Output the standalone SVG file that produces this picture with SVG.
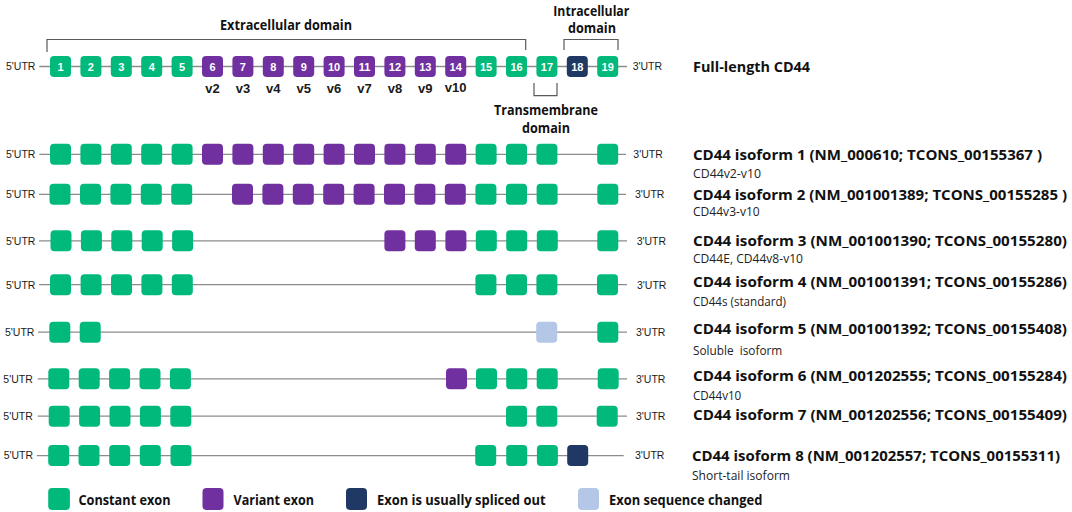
<svg xmlns="http://www.w3.org/2000/svg" width="1072" height="512" viewBox="0 0 1072 512">
<style>
.bg{fill:#ffffff}
.ln{stroke:#8c8c8c;stroke-width:1.3;fill:none}
.br{stroke:#5a5a5a;stroke-width:1.2;fill:none}
.g{fill:#00b97b}
.p{fill:#7030a0}
.n{fill:#1f3864}
.lb{fill:#b4c7e7}
.num{font-family:"Liberation Sans",Arial,sans-serif;font-weight:700;font-size:11px;fill:#ffffff;text-anchor:middle}
.v{font-family:"Liberation Sans",Arial,sans-serif;font-weight:700;font-size:13px;fill:#1a1a1a;text-anchor:middle}
.utr{font-family:"Liberation Sans",Arial,sans-serif;font-size:10.5px;fill:#1a1a1a}
.ttl{font-family:"Open Sans","Liberation Sans",sans-serif;font-weight:700;font-size:15px;fill:#111111}
.sub{font-family:"Open Sans","Liberation Sans",sans-serif;font-size:12px;fill:#222222}
.dom{font-family:"Open Sans","Liberation Sans",sans-serif;font-weight:700;font-size:14.5px;fill:#111111;text-anchor:middle}
.leg{font-family:"Open Sans","Liberation Sans",sans-serif;font-weight:700;font-size:14.5px;fill:#111111}
</style>
<rect class="bg" x="0" y="0" width="1072" height="512"/>

<g id="connectors">
<line class="ln" x1="39.3" y1="66.5" x2="627" y2="66.5"/>
<line class="ln" x1="39.3" y1="154.3" x2="626" y2="154.3"/>
<line class="ln" x1="39" y1="194.3" x2="626" y2="194.3"/>
<line class="ln" x1="39" y1="240.8" x2="627" y2="240.8"/>
<line class="ln" x1="39" y1="284.7" x2="627" y2="284.7"/>
<line class="ln" x1="38" y1="332.2" x2="627" y2="332.2"/>
<line class="ln" x1="37.7" y1="378.8" x2="627" y2="378.8"/>
<line class="ln" x1="37.7" y1="416.2" x2="627" y2="416.2"/>
<line class="ln" x1="36.8" y1="455.6" x2="623.7" y2="455.6"/>
</g>

<g id="domains">
<path class="br" d="M47,52 V39.5 H525.7 V50"/>
<text class="dom" x="286" y="30" textLength="132" lengthAdjust="spacingAndGlyphs">Extracellular domain</text>
<path class="br" d="M564,50 V39.5 H618 V50"/>
<text class="dom" x="591.3" y="15.5" textLength="76" lengthAdjust="spacingAndGlyphs">Intracellular</text>
<text class="dom" x="592" y="33" textLength="48" lengthAdjust="spacingAndGlyphs">domain</text>
<path class="br" d="M534,83 V95.7 H557 V83"/>
<text class="dom" x="546" y="115" textLength="104" lengthAdjust="spacingAndGlyphs">Transmembrane</text>
<text class="dom" x="546" y="133" textLength="48" lengthAdjust="spacingAndGlyphs">domain</text>
</g>

<g id="full-length">
<text class="utr" x="6" y="70.3">5'UTR</text>
<rect class="g" x="50" y="56" width="21" height="21" rx="4"/>
<rect class="g" x="80.4" y="56" width="21" height="21" rx="4"/>
<rect class="g" x="110.8" y="56" width="21" height="21" rx="4"/>
<rect class="g" x="141.2" y="56" width="21" height="21" rx="4"/>
<rect class="g" x="171.6" y="56" width="21" height="21" rx="4"/>
<rect class="p" x="202" y="56" width="21" height="21" rx="4"/>
<rect class="p" x="232.4" y="56" width="21" height="21" rx="4"/>
<rect class="p" x="262.8" y="56" width="21" height="21" rx="4"/>
<rect class="p" x="293.2" y="56" width="21" height="21" rx="4"/>
<rect class="p" x="323.6" y="56" width="21" height="21" rx="4"/>
<rect class="p" x="354" y="56" width="21" height="21" rx="4"/>
<rect class="p" x="384.4" y="56" width="21" height="21" rx="4"/>
<rect class="p" x="414.8" y="56" width="21" height="21" rx="4"/>
<rect class="p" x="445.2" y="56" width="21" height="21" rx="4"/>
<rect class="g" x="475.6" y="56" width="21" height="21" rx="4"/>
<rect class="g" x="506" y="56" width="21" height="21" rx="4"/>
<rect class="g" x="536.4" y="56" width="21" height="21" rx="4"/>
<rect class="n" x="566.8" y="56" width="21" height="21" rx="4"/>
<rect class="g" x="597.2" y="56" width="21" height="21" rx="4"/>
<text class="num" x="60.5" y="70.8">1</text>
<text class="num" x="90.9" y="70.8">2</text>
<text class="num" x="121.3" y="70.8">3</text>
<text class="num" x="151.7" y="70.8">4</text>
<text class="num" x="182.1" y="70.8">5</text>
<text class="num" x="212.5" y="70.8">6</text>
<text class="num" x="242.9" y="70.8">7</text>
<text class="num" x="273.3" y="70.8">8</text>
<text class="num" x="303.7" y="70.8">9</text>
<text class="num" x="334.1" y="70.8">10</text>
<text class="num" x="364.5" y="70.8">11</text>
<text class="num" x="394.9" y="70.8">12</text>
<text class="num" x="425.3" y="70.8">13</text>
<text class="num" x="455.7" y="70.8">14</text>
<text class="num" x="486.1" y="70.8">15</text>
<text class="num" x="516.5" y="70.8">16</text>
<text class="num" x="546.9" y="70.8">17</text>
<text class="num" x="577.3" y="70.8">18</text>
<text class="num" x="607.7" y="70.8">19</text>
<text class="v" x="212.5" y="93">v2</text>
<text class="v" x="242.9" y="93">v3</text>
<text class="v" x="273.3" y="93">v4</text>
<text class="v" x="303.7" y="93">v5</text>
<text class="v" x="334.1" y="93">v6</text>
<text class="v" x="364.5" y="93">v7</text>
<text class="v" x="394.9" y="93">v8</text>
<text class="v" x="425.3" y="93">v9</text>
<text class="v" x="455.7" y="91.5">v10</text>
<text class="utr" x="632.7" y="70.3">3'UTR</text>
<text class="ttl" x="693" y="72" textLength="117" lengthAdjust="spacingAndGlyphs">Full-length CD44</text>
</g>

<g id="isoform1">
<text class="utr" x="6" y="158.1">5'UTR</text>
<rect class="g" x="50" y="143.8" width="21" height="21" rx="4"/>
<rect class="g" x="80.4" y="143.8" width="21" height="21" rx="4"/>
<rect class="g" x="110.8" y="143.8" width="21" height="21" rx="4"/>
<rect class="g" x="141.2" y="143.8" width="21" height="21" rx="4"/>
<rect class="g" x="171.6" y="143.8" width="21" height="21" rx="4"/>
<rect class="p" x="202" y="143.8" width="21" height="21" rx="4"/>
<rect class="p" x="232.4" y="143.8" width="21" height="21" rx="4"/>
<rect class="p" x="262.8" y="143.8" width="21" height="21" rx="4"/>
<rect class="p" x="293.2" y="143.8" width="21" height="21" rx="4"/>
<rect class="p" x="323.6" y="143.8" width="21" height="21" rx="4"/>
<rect class="p" x="354" y="143.8" width="21" height="21" rx="4"/>
<rect class="p" x="384.4" y="143.8" width="21" height="21" rx="4"/>
<rect class="p" x="414.8" y="143.8" width="21" height="21" rx="4"/>
<rect class="p" x="445.2" y="143.8" width="21" height="21" rx="4"/>
<rect class="g" x="475.6" y="143.8" width="21" height="21" rx="4"/>
<rect class="g" x="506" y="143.8" width="21" height="21" rx="4"/>
<rect class="g" x="536.4" y="143.8" width="21" height="21" rx="4"/>
<rect class="g" x="597.2" y="143.8" width="21" height="21" rx="4"/>
<text class="utr" x="633.3" y="158.1">3'UTR</text>
<text class="ttl" x="693" y="159.5" textLength="349" lengthAdjust="spacingAndGlyphs">CD44 isoform 1 (NM_000610; TCONS_00155367 )</text>
<text class="sub" x="693" y="177.5" textLength="68" lengthAdjust="spacingAndGlyphs">CD44v2-v10</text>
</g>

<g id="isoform2">
<text class="utr" x="6" y="198.1">5'UTR</text>
<rect class="g" x="49.5" y="183.8" width="21" height="21" rx="4"/>
<rect class="g" x="80" y="183.8" width="21" height="21" rx="4"/>
<rect class="g" x="110.4" y="183.8" width="21" height="21" rx="4"/>
<rect class="g" x="140.8" y="183.8" width="21" height="21" rx="4"/>
<rect class="g" x="171.2" y="183.8" width="21" height="21" rx="4"/>
<rect class="p" x="232" y="183.8" width="21" height="21" rx="4"/>
<rect class="p" x="262.4" y="183.8" width="21" height="21" rx="4"/>
<rect class="p" x="292.8" y="183.8" width="21" height="21" rx="4"/>
<rect class="p" x="323.2" y="183.8" width="21" height="21" rx="4"/>
<rect class="p" x="353.6" y="183.8" width="21" height="21" rx="4"/>
<rect class="p" x="384" y="183.8" width="21" height="21" rx="4"/>
<rect class="p" x="414.4" y="183.8" width="21" height="21" rx="4"/>
<rect class="p" x="444.8" y="183.8" width="21" height="21" rx="4"/>
<rect class="g" x="475.4" y="183.8" width="21" height="21" rx="4"/>
<rect class="g" x="506" y="183.8" width="21" height="21" rx="4"/>
<rect class="g" x="536.6" y="183.8" width="21" height="21" rx="4"/>
<rect class="g" x="597.3" y="183.8" width="21" height="21" rx="4"/>
<text class="utr" x="635" y="198.1">3'UTR</text>
<text class="ttl" x="693" y="199.5" textLength="374" lengthAdjust="spacingAndGlyphs">CD44 isoform 2 (NM_001001389; TCONS_00155285 )</text>
<text class="sub" x="693" y="216" textLength="66.7" lengthAdjust="spacingAndGlyphs">CD44v3-v10</text>
</g>

<g id="isoform3">
<text class="utr" x="6" y="244.6">5'UTR</text>
<rect class="g" x="50.5" y="230.3" width="21" height="21" rx="4"/>
<rect class="g" x="80.9" y="230.3" width="21" height="21" rx="4"/>
<rect class="g" x="111.3" y="230.3" width="21" height="21" rx="4"/>
<rect class="g" x="141.7" y="230.3" width="21" height="21" rx="4"/>
<rect class="g" x="172.1" y="230.3" width="21" height="21" rx="4"/>
<rect class="p" x="384.4" y="230.3" width="21" height="21" rx="4"/>
<rect class="p" x="414.8" y="230.3" width="21" height="21" rx="4"/>
<rect class="p" x="445.4" y="230.3" width="21" height="21" rx="4"/>
<rect class="g" x="475.8" y="230.3" width="21" height="21" rx="4"/>
<rect class="g" x="506.2" y="230.3" width="21" height="21" rx="4"/>
<rect class="g" x="536.8" y="230.3" width="21" height="21" rx="4"/>
<rect class="g" x="597.3" y="230.3" width="21" height="21" rx="4"/>
<text class="utr" x="636.7" y="244.6">3'UTR</text>
<text class="ttl" x="693" y="246" textLength="374" lengthAdjust="spacingAndGlyphs">CD44 isoform 3 (NM_001001390; TCONS_00155280)</text>
<text class="sub" x="693" y="263" textLength="110" lengthAdjust="spacingAndGlyphs">CD44E, CD44v8-v10</text>
</g>

<g id="isoform4">
<text class="utr" x="6" y="288.5">5'UTR</text>
<rect class="g" x="50" y="274.2" width="21" height="21" rx="4"/>
<rect class="g" x="80.6" y="274.2" width="21" height="21" rx="4"/>
<rect class="g" x="111" y="274.2" width="21" height="21" rx="4"/>
<rect class="g" x="141.4" y="274.2" width="21" height="21" rx="4"/>
<rect class="g" x="171.8" y="274.2" width="21" height="21" rx="4"/>
<rect class="g" x="475.4" y="274.2" width="21" height="21" rx="4"/>
<rect class="g" x="506" y="274.2" width="21" height="21" rx="4"/>
<rect class="g" x="536.4" y="274.2" width="21" height="21" rx="4"/>
<rect class="g" x="597" y="274.2" width="21" height="21" rx="4"/>
<text class="utr" x="637" y="288.5">3'UTR</text>
<text class="ttl" x="693" y="287" textLength="374" lengthAdjust="spacingAndGlyphs">CD44 isoform 4 (NM_001001391; TCONS_00155286)</text>
<text class="sub" x="693" y="306" textLength="93" lengthAdjust="spacingAndGlyphs">CD44s (standard)</text>
</g>

<g id="isoform5">
<text class="utr" x="5" y="336">5'UTR</text>
<rect class="g" x="49.3" y="321.7" width="21" height="21" rx="4"/>
<rect class="g" x="79.7" y="321.7" width="21" height="21" rx="4"/>
<rect class="lb" x="536.2" y="321.7" width="21" height="21" rx="4"/>
<rect class="g" x="597.3" y="321.7" width="21" height="21" rx="4"/>
<text class="utr" x="636" y="336">3'UTR</text>
<text class="ttl" x="693" y="334" textLength="374" lengthAdjust="spacingAndGlyphs">CD44 isoform 5 (NM_001001392; TCONS_00155408)</text>
<text class="sub" x="693" y="355" xml:space="preserve" textLength="89.3" lengthAdjust="spacingAndGlyphs">Soluble  isoform</text>
</g>

<g id="isoform6">
<text class="utr" x="3.3" y="382.6">5'UTR</text>
<rect class="g" x="48.3" y="368.3" width="21" height="21" rx="4"/>
<rect class="g" x="78.7" y="368.3" width="21" height="21" rx="4"/>
<rect class="g" x="109.1" y="368.3" width="21" height="21" rx="4"/>
<rect class="g" x="139.5" y="368.3" width="21" height="21" rx="4"/>
<rect class="g" x="169.9" y="368.3" width="21" height="21" rx="4"/>
<rect class="p" x="446" y="368.3" width="21" height="21" rx="4"/>
<rect class="g" x="476" y="368.3" width="21" height="21" rx="4"/>
<rect class="g" x="506.2" y="368.3" width="21" height="21" rx="4"/>
<rect class="g" x="536.7" y="368.3" width="21" height="21" rx="4"/>
<rect class="g" x="597.7" y="368.3" width="21" height="21" rx="4"/>
<text class="utr" x="636" y="382.6">3'UTR</text>
<text class="ttl" x="693" y="380.5" textLength="374" lengthAdjust="spacingAndGlyphs">CD44 isoform 6 (NM_001202555; TCONS_00155284)</text>
<text class="sub" x="693" y="400" textLength="48.3" lengthAdjust="spacingAndGlyphs">CD44v10</text>
</g>

<g id="isoform7">
<text class="utr" x="3.3" y="420">5'UTR</text>
<rect class="g" x="48.7" y="405.7" width="21" height="21" rx="4"/>
<rect class="g" x="79.1" y="405.7" width="21" height="21" rx="4"/>
<rect class="g" x="109.5" y="405.7" width="21" height="21" rx="4"/>
<rect class="g" x="139.9" y="405.7" width="21" height="21" rx="4"/>
<rect class="g" x="170.3" y="405.7" width="21" height="21" rx="4"/>
<rect class="g" x="506" y="405.7" width="21" height="21" rx="4"/>
<rect class="g" x="536.3" y="405.7" width="21" height="21" rx="4"/>
<rect class="g" x="596.7" y="405.7" width="21" height="21" rx="4"/>
<text class="utr" x="636" y="420">3'UTR</text>
<text class="ttl" x="693" y="419.5" textLength="374" lengthAdjust="spacingAndGlyphs">CD44 isoform 7 (NM_001202556; TCONS_00155409)</text>
</g>

<g id="isoform8">
<text class="utr" x="3.7" y="459.4">5'UTR</text>
<rect class="g" x="48.2" y="445.1" width="21" height="21" rx="4"/>
<rect class="g" x="78.5" y="445.1" width="21" height="21" rx="4"/>
<rect class="g" x="109.2" y="445.1" width="21" height="21" rx="4"/>
<rect class="g" x="139.8" y="445.1" width="21" height="21" rx="4"/>
<rect class="g" x="170.5" y="445.1" width="21" height="21" rx="4"/>
<rect class="g" x="475.2" y="445.1" width="21" height="21" rx="4"/>
<rect class="g" x="506.2" y="445.1" width="21" height="21" rx="4"/>
<rect class="g" x="536.9" y="445.1" width="21" height="21" rx="4"/>
<rect class="n" x="567.2" y="445.1" width="21" height="21" rx="4"/>
<text class="utr" x="635" y="459.4">3'UTR</text>
<text class="ttl" x="692" y="461" textLength="368" lengthAdjust="spacingAndGlyphs">CD44 isoform 8 (NM_001202557; TCONS_00155311)</text>
<text class="sub" x="692" y="479.5" textLength="98" lengthAdjust="spacingAndGlyphs">Short-tail isoform</text>
</g>

<g id="legend">
<rect class="g" x="48.2" y="488" width="21.7" height="22" rx="4"/>
<text class="leg" x="78.5" y="505" textLength="92" lengthAdjust="spacingAndGlyphs">Constant exon</text>
<rect class="p" x="202.5" y="488" width="21" height="22" rx="4"/>
<text class="leg" x="233.5" y="505" textLength="80.5" lengthAdjust="spacingAndGlyphs">Variant exon</text>
<rect class="n" x="346" y="488" width="21" height="22" rx="4"/>
<text class="leg" x="377" y="505" textLength="168.5" lengthAdjust="spacingAndGlyphs">Exon is usually spliced out</text>
<rect class="lb" x="578" y="488" width="21" height="22" rx="4"/>
<text class="leg" x="609" y="505" textLength="153.4" lengthAdjust="spacingAndGlyphs">Exon sequence changed</text>
</g>
</svg>
